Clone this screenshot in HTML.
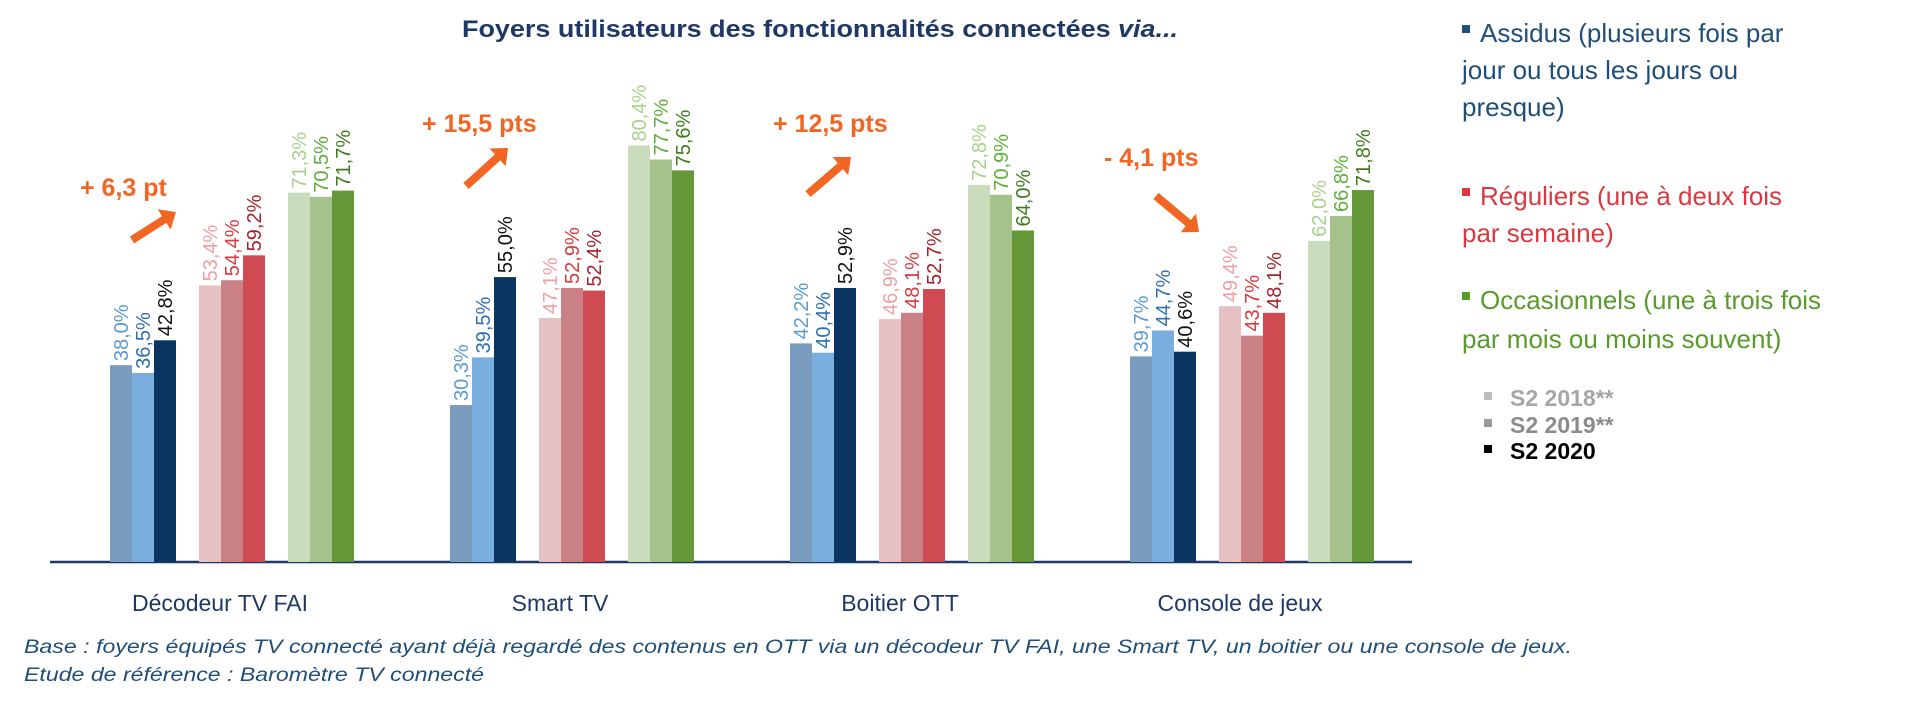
<!DOCTYPE html>
<html><head><meta charset="utf-8"><style>
html,body{margin:0;padding:0;background:#fff;width:1920px;height:702px;overflow:hidden}
svg{display:block;font-family:"Liberation Sans",sans-serif}
</style></head><body>
<svg id="chart" width="1920" height="702" viewBox="0 0 1920 702">
<text x="462" y="37" font-size="24" font-weight="bold" fill="#1f3864" textLength="716" lengthAdjust="spacingAndGlyphs">Foyers utilisateurs des fonctionnalités connectées <tspan font-style="italic">via...</tspan></text>
<line x1="50" y1="562" x2="1412" y2="562" stroke="#1f3864" stroke-width="2.5"/>
<g id="bars"></g>
<g id="annots"></g>
<g font-size="26">
 <rect x="1462" y="25" width="8" height="8" fill="#1f4e79"/>
 <text x="1480" y="42" fill="#1f4e79">Assidus (plusieurs fois par<tspan x="1462" dy="37">jour ou tous les jours ou</tspan><tspan x="1462" dy="37">presque)</tspan></text>
 <rect x="1462" y="188" width="8" height="8" fill="#d9393f"/>
 <text x="1480" y="205" fill="#d9393f">Réguliers (une à deux fois<tspan x="1462" dy="37">par semaine)</tspan></text>
 <rect x="1462" y="292" width="8" height="8" fill="#5a9a2a"/>
 <text x="1480" y="309" fill="#5a9a2a">Occasionnels (une à trois fois<tspan x="1462" dy="39">par mois ou moins souvent)</tspan></text>
 <rect x="1484" y="392" width="8" height="8" fill="#bdbdbd"/>
 <text x="1510" y="406" fill="#a6a6a6" font-size="23" font-weight="bold">S2 2018**</text>
 <rect x="1484" y="419" width="8" height="8" fill="#999"/>
 <text x="1510" y="433" fill="#8c8c8c" font-size="23" font-weight="bold">S2 2019**</text>
 <rect x="1484" y="445" width="8" height="8" fill="#000"/>
 <text x="1510" y="459" fill="#000" font-size="23" font-weight="bold">S2 2020</text>
</g>
<g font-style="italic" font-size="19" fill="#1f4e79">
 <text x="24" y="653" textLength="1548" lengthAdjust="spacingAndGlyphs">Base : foyers équipés TV connecté ayant déjà regardé des contenus en OTT via un décodeur TV FAI, une Smart TV, un boitier ou une console de jeux.</text>
 <text x="24" y="681" textLength="460" lengthAdjust="spacingAndGlyphs">Etude de référence : Baromètre TV connecté</text>
</g>
</svg>
<script>
const categories = ["Décodeur TV FAI","Smart TV","Boitier OTT","Console de jeux"];
const assidus = [[38.0,36.5,42.8],[30.3,39.5,55.0],[42.2,40.4,52.9],[39.7,44.7,40.6]];
const reguliers = [[53.4,54.4,59.2],[47.1,52.9,52.4],[46.9,48.1,52.7],[49.4,43.7,48.1]];
const occasionnels = [[71.3,70.5,71.7],[80.4,77.7,75.6],[72.8,70.9,64.0],[62.0,66.8,71.8]];
const deltas = ["+ 6,3 pt","+ 15,5 pts","+ 12,5 pts","- 4,1 pts"];
const years = ["2018","2019","2020"];

const NS="http://www.w3.org/2000/svg";
const base=562, perPct=5.18;
const y=v=>base-v*perPct;
const groupX=i=>110+i*340;
const barColors=[["#7a9cbf","#7aaede","#0a3560"],["#e6c1c3","#c98185","#d04b51"],["#c9dcbc","#a5c28c","#659838"]];
const labelColors=[["#5b9bd5","#2e6fb0","#111"],["#eba0a4","#d9393f","#a3222c"],["#a9d18e","#5fae3a","#3f7a1e"]];
const seriesNames=["assidus","reguliers","occasionnels"];
const series=[assidus,reguliers,occasionnels];
const fmt=v=>v.toFixed(1).replace(".",",")+"%";
const bars=document.getElementById("bars");
categories.forEach((c,i)=>{
  series.forEach((s,k)=>{
    s[i].forEach((v,j)=>{
      const x=groupX(i)+k*89+j*22;
      const r=document.createElementNS(NS,"rect");
      r.setAttribute("x",x);r.setAttribute("y",y(v));
      r.setAttribute("width",22);r.setAttribute("height",base-y(v));
      r.setAttribute("fill",barColors[k][j]);
      
      
      bars.appendChild(r);
      const t=document.createElementNS(NS,"text");
      const tx=x+18, ty=y(v)-4;
      t.setAttribute("transform","translate("+tx+","+ty+") rotate(-90)");
      t.setAttribute("font-size","20");
      t.setAttribute("fill",labelColors[k][j]);
      t.textContent=fmt(v);
      
      
      bars.appendChild(t);
    });
  });
  const lab=document.createElementNS(NS,"text");
  lab.setAttribute("x",groupX(i)+110);lab.setAttribute("y",611);
  lab.setAttribute("text-anchor","middle");lab.setAttribute("font-size","23");lab.setAttribute("fill","#1f3864");
  lab.textContent=c;
  
  
  bars.appendChild(lab);
});
const an=document.getElementById("annots");
const annPos=[[80,196],[422,132],[773,132],[1104,166]];
const arrows=[[132,240,176,212],[466,186,508,148],[808,194,851,157],[1156,196,1199,232]];
deltas.forEach((d,i)=>{
  const t=document.createElementNS(NS,"text");
  t.setAttribute("x",annPos[i][0]);t.setAttribute("y",annPos[i][1]);
  t.setAttribute("font-size","25");t.setAttribute("font-weight","bold");t.setAttribute("fill","#f26522");
  t.textContent=d;
  
  
  an.appendChild(t);
  const [x1,y1,x2,y2]=arrows[i];
  const g=document.createElementNS(NS,"g");
  
  
  const ang=Math.atan2(y2-y1,x2-x1);
  const L=Math.hypot(x2-x1,y2-y1);
  g.setAttribute("transform","translate("+x1+","+y1+") rotate("+(ang*180/Math.PI)+")");
  const p=document.createElementNS(NS,"path");
  p.setAttribute("d","M0,-4 L"+(L-14)+",-4 L"+(L-14)+",-12 L"+L+",0 L"+(L-14)+",12 L"+(L-14)+",4 L0,4 Z");
  p.setAttribute("fill","#f26522");
  g.appendChild(p);an.appendChild(g);
});
</script>
</body></html>
